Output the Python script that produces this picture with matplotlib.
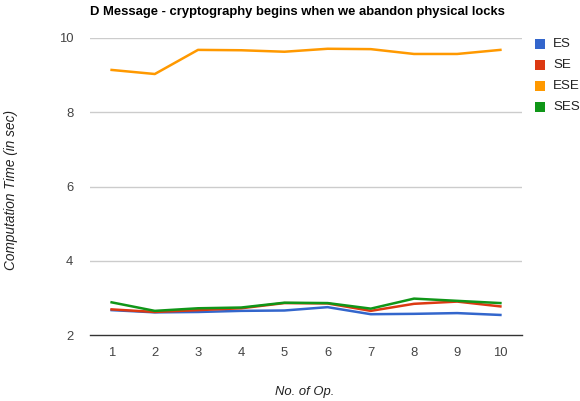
import matplotlib
matplotlib.use("Agg")
import matplotlib.pyplot as plt
from matplotlib.patches import Rectangle

plt.rcParams['font.family'] = ['Liberation Sans', 'DejaVu Sans']

ops = [1, 2, 3, 4, 5, 6, 7, 8, 9, 10]
es = [2.67, 2.61, 2.62, 2.65, 2.66, 2.75, 2.56, 2.57, 2.59, 2.54]
se = [2.69, 2.62, 2.67, 2.72, 2.86, 2.85, 2.65, 2.84, 2.90, 2.77]
ese = [9.14, 9.03, 9.68, 9.67, 9.63, 9.71, 9.70, 9.57, 9.57, 9.68]
ses = [2.88, 2.65, 2.72, 2.74, 2.87, 2.86, 2.71, 2.98, 2.92, 2.86]

series = [("ES", es, "#3366cc"), ("SE", se, "#dc3912"),
          ("ESE", ese, "#ff9900"), ("SES", ses, "#109618")]

fig = plt.figure(figsize=(5.8, 4.01), dpi=100)
ax = fig.add_axes([90 / 580, 66 / 401, 432 / 580, 297 / 401])

for name, vals, col in series:
    ax.plot(ops, vals, color=col, lw=1.8, solid_joinstyle='round')

ax.set_xlim(0.5, 10.5)
ax.set_ylim(2, 10)
ax.set_xticks(ops)
ax.set_yticks([2, 4, 6, 8, 10])
for y in [4, 6, 8, 10]:
    ax.axhline(y, color="#cccccc", lw=1, zorder=0)
ax.axhline(2, color="#333333", lw=1, zorder=3, clip_on=False)
for s in ax.spines.values():
    s.set_visible(False)
ax.tick_params(length=0, labelsize=9.4, labelcolor="#444444")
ax.tick_params(axis='y', pad=12)
ax.tick_params(axis='x', pad=9)

fig.text(90 / 580, 1 - 12 / 401, "D Message - cryptography begins when we abandon physical locks",
         fontsize=9.4, fontweight='bold', va='center', ha='left')
fig.text(11 / 580, 1 - 190 / 401, "Computation Time (in sec)", rotation=90,
         fontsize=9.8, style='italic', color="#222222", va='center', ha='center')
fig.text(305 / 580, 1 - 392 / 401, "No. of Op.", fontsize=9.4, style='italic',
         color="#222222", va='center', ha='center')

for i, (name, vals, col) in enumerate(series):
    yc = 44 + 21 * i
    fig.patches.append(Rectangle((535 / 580, 1 - (yc + 4.5) / 401), 9.5 / 580, 9.5 / 401,
                                 transform=fig.transFigure, facecolor=col, edgecolor='none'))
    fig.text(553 / 580, 1 - yc / 401, name, fontsize=9.6, color="#222222",
             va='center', ha='left')

fig.savefig("out.png", dpi=100)
